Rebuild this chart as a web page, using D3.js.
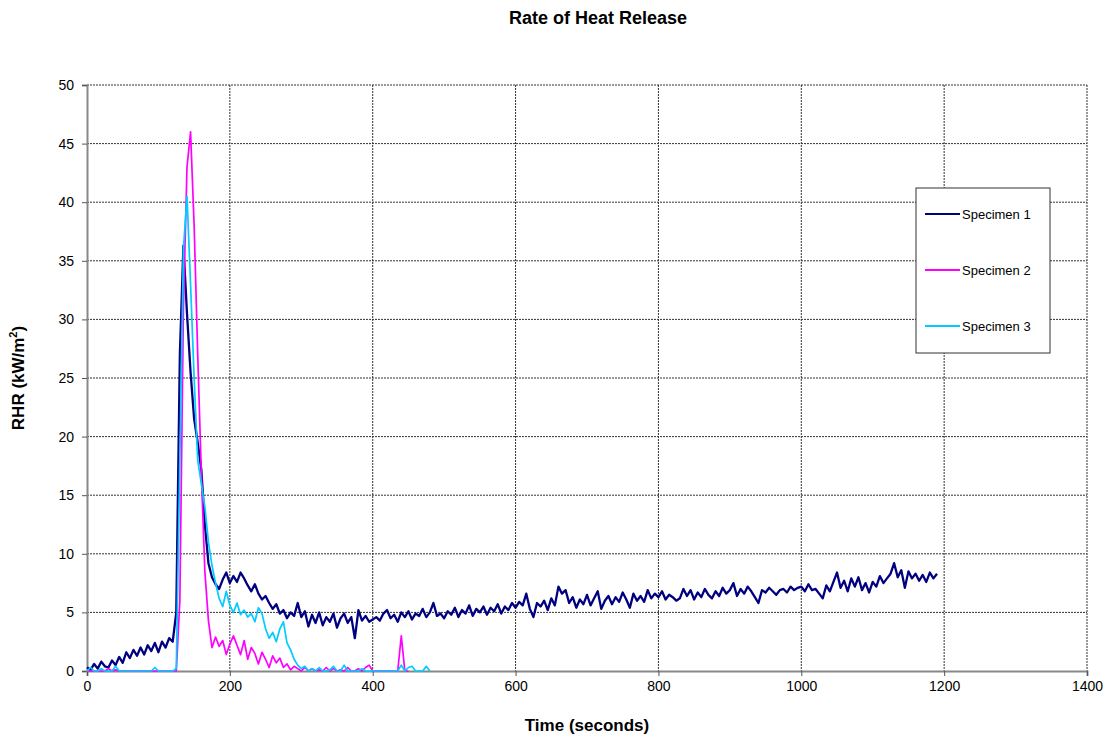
<!DOCTYPE html>
<html>
<head>
<meta charset="utf-8">
<script src="https://cdn.jsdelivr.net/npm/d3@7"></script>
<style>
  body { margin: 0; background: #fff; }
  svg { display: block; }
  text { font-family: "Liberation Sans", Arial, sans-serif; }
</style>
</head>
<body>
<svg id="chart" width="1109" height="742"></svg>
<script>
// ---- data (RHR, kW/m², sampled every 5 s) ----
const seriesNames = ["Specimen 1", "Specimen 2", "Specimen 3"];
const sampleStep = 5; // seconds between readings

const specimen1 = [
  0.3, 0.1, 0.6, 0.2, 0.8, 0.4, 0.3, 0.9, 0.5, 1.2,
  0.7, 1.6, 1.1, 1.8, 1.3, 2.0, 1.4, 2.2, 1.7, 2.4,
  1.6, 2.5, 2.0, 2.8, 2.5, 5.0, 27, 36.3, 30.5, 25.5,
  21.5, 19.5, 17.2, 12.5, 9.2, 8.0, 7.4, 7.0, 7.8, 8.4,
  7.5, 8.1, 7.6, 8.4, 7.9, 7.3, 6.8, 7.4, 6.6, 6.1,
  6.4, 5.8, 5.3, 5.7, 4.9, 5.2, 4.5, 5.0, 4.7, 5.8,
  4.6, 5.1, 3.8, 4.8, 4.1, 5.0, 3.9, 4.6, 4.2, 4.9,
  3.7, 4.5, 4.9, 4.1, 4.6, 2.8, 5.2, 4.3, 4.7, 4.2,
  4.4, 4.6, 4.3, 4.9, 5.2, 4.5, 4.8, 4.2, 5.0, 4.6,
  5.1, 4.4, 4.9, 4.7, 5.3, 4.6, 5.0, 5.8, 4.7, 4.9,
  4.5, 5.1, 4.8, 5.4, 4.6, 5.2, 4.9, 5.6, 4.7, 5.3,
  5.0, 5.5, 4.8, 5.4, 5.1, 5.7, 4.9, 5.5, 5.2, 5.8,
  5.4, 5.9, 5.6, 6.6, 5.3, 4.6, 5.8, 5.5, 6.0, 5.2,
  6.2, 5.6, 7.2, 6.6, 6.9, 5.8, 6.3, 5.4, 6.1, 5.7,
  6.5, 5.6, 6.2, 6.8, 5.3, 6.0, 6.4, 5.7, 6.3, 5.9,
  6.7, 6.1, 5.4, 6.6, 6.0, 6.4, 5.9, 6.9, 6.2, 6.6,
  6.3, 6.8, 6.1, 6.5, 6.3, 6.0, 6.2, 7.0, 6.4, 6.9,
  6.1, 6.7, 6.3, 7.0, 6.5, 6.2, 6.8, 6.4, 7.1, 6.6,
  6.9, 7.5, 6.4, 7.0, 6.6, 7.2, 6.8, 6.3, 5.8, 6.9,
  6.7, 7.1, 6.8, 6.5, 6.9, 7.0, 6.7, 7.2, 6.9, 7.1,
  7.2, 6.8, 7.4, 6.9, 7.0, 6.6, 6.2, 7.3, 6.8, 7.6,
  8.4, 7.1, 7.7, 6.8, 7.9, 7.2, 8.0, 6.9, 7.5, 6.7,
  7.6, 7.2, 8.1, 7.5, 7.9, 8.3, 9.2, 8.0, 8.6, 7.1,
  8.5, 7.9, 8.3, 7.7, 8.2, 7.6, 8.4, 7.9, 8.3
];

const specimen2 = [
  0, 0, 0, 0, 0, 0, 0.2, 0, 0.1, 0,
  0, 0, 0, 0, 0, 0, 0, 0, 0, 0,
  0, 0, 0, 0, 0, 0, 6, 31, 43, 46,
  38, 27, 17, 8.5, 4.3, 2.0, 2.9, 2.1, 2.6, 1.4,
  2.3, 3.0, 2.2, 1.4, 2.6, 1.0, 2.0, 1.5, 0.6, 1.6,
  1.0, 0.3, 1.3, 0.7, 1.1, 0.3, 0.6, 0.1, 0.4, 0.2,
  0, 0.3, 0, 0.2, 0, 0.1, 0, 0.3, 0, 0.2,
  0, 0.1, 0, 0.3, 0, 0, 0.2, 0, 0.3, 0.5,
  0, 0, 0, 0, 0, 0, 0, 0, 3.0, 0,
  0
];

const specimen3 = [
  0, 0.3, 0, 0, 0.2, 0, 0, 0, 0.4, 0,
  0, 0, 0, 0, 0, 0, 0, 0, 0, 0.3,
  0, 0, 0, 0, 0, 0.2, 18, 36, 40.5, 33,
  25, 18, 16, 14, 11, 9, 7.5, 6.2, 5.5, 6.8,
  5.6, 5.0, 5.8, 4.8, 5.2, 4.6, 4.9, 4.2, 5.4, 4.9,
  3.6, 2.8, 3.3, 2.5, 3.6, 4.2, 2.4, 1.8, 1.0, 0.5,
  0.2, 0.4, 0, 0.2, 0, 0.3, 0, 0, 0.1, 0.4,
  0, 0, 0.5, 0, 0, 0, 0, 0.2, 0, 0,
  0, 0, 0, 0, 0, 0, 0, 0, 0.5, 0,
  0.3, 0.4, 0, 0, 0, 0.4, 0
];

const xTicks = [0, 200, 400, 600, 800, 1000, 1200, 1400];
const yTicks = [0, 5, 10, 15, 20, 25, 30, 35, 40, 45, 50];
const colors = ["#000080", "#FF00FF", "#00CCFF"];

// ---- layout ----
const svg = d3.select("#chart");
const plotL = 87, plotR = 1087, plotT = 85, plotB = 671;

const x = d3.scaleLinear().domain([0, 1400]).range([plotL, plotR]);
const y = d3.scaleLinear().domain([0, 50]).range([plotB, plotT]);

// gridlines
const grid = svg.append("g");
grid.selectAll("line.h").data(yTicks.filter(d => d > 0)).join("line")
  .attr("x1", plotL).attr("x2", plotR)
  .attr("y1", d => y(d)).attr("y2", d => y(d))
  .attr("stroke", "#333").attr("stroke-width", 1)
  .attr("stroke-dasharray", "2,1");
grid.selectAll("line.v").data(xTicks.filter(d => d > 0)).join("line")
  .attr("x1", d => x(d)).attr("x2", d => x(d))
  .attr("y1", plotT).attr("y2", plotB)
  .attr("stroke", "#333").attr("stroke-width", 1)
  .attr("stroke-dasharray", "2,1");

// axes
const yAxis = svg.append("g").attr("transform", `translate(${plotL},0)`)
  .call(d3.axisLeft(y).tickValues(yTicks).tickSize(5).tickPadding(8).tickFormat(d3.format("d")));
const xAxis = svg.append("g").attr("transform", `translate(0,${plotB})`)
  .call(d3.axisBottom(x).tickValues(xTicks).tickSize(5).tickPadding(5).tickFormat(d3.format("d")));
[yAxis, xAxis].forEach(a => {
  a.select(".domain").attr("stroke", "#888").attr("stroke-width", 2);
  a.selectAll(".tick line").attr("stroke", "#555");
  a.selectAll(".tick text").attr("fill", "#000").style("font-size", "14px")
    .style("font-family", "'Liberation Sans', Arial, sans-serif");
});

// series
const allSeries = [specimen1, specimen2, specimen3];
const line = d3.line()
  .x((d, i) => x(i * sampleStep))
  .y(d => y(d));
const widths = [2.3, 1.7, 1.7];
allSeries.forEach((s, k) => {
  svg.append("path")
    .datum(s)
    .attr("d", line)
    .attr("fill", "none")
    .attr("stroke", colors[k])
    .attr("stroke-width", widths[k])
    .attr("stroke-linejoin", "round");
});

// title
svg.append("text").attr("x", 598).attr("y", 24)
  .attr("text-anchor", "middle").style("font-size", "18px").style("font-weight", "bold")
  .text("Rate of Heat Release");

// x axis title
svg.append("text").attr("x", 587).attr("y", 731)
  .attr("text-anchor", "middle").style("font-size", "17px").style("font-weight", "bold")
  .text("Time (seconds)");

// y axis title
const yt = svg.append("text")
  .attr("transform", `translate(24,${(plotT + plotB) / 2}) rotate(-90)`)
  .attr("text-anchor", "middle").style("font-size", "17px").style("font-weight", "bold");
yt.append("tspan").text("RHR (kW/m");
yt.append("tspan").attr("dy", -7).style("font-size", "11px").text("2");
yt.append("tspan").attr("dy", 7).text(")");

// legend
const lg = svg.append("g");
lg.append("rect").attr("x", 916).attr("y", 188).attr("width", 134).attr("height", 165)
  .attr("fill", "#fff").attr("stroke", "#333").attr("stroke-width", 1);
seriesNames.forEach((n, k) => {
  const ly = 214 + k * 56;
  lg.append("line").attr("x1", 925).attr("x2", 960).attr("y1", ly).attr("y2", ly)
    .attr("stroke", colors[k]).attr("stroke-width", 2);
  lg.append("text").attr("x", 962).attr("y", ly + 4.5).style("font-size", "13px").text(n);
});
</script>
</body>
</html>
